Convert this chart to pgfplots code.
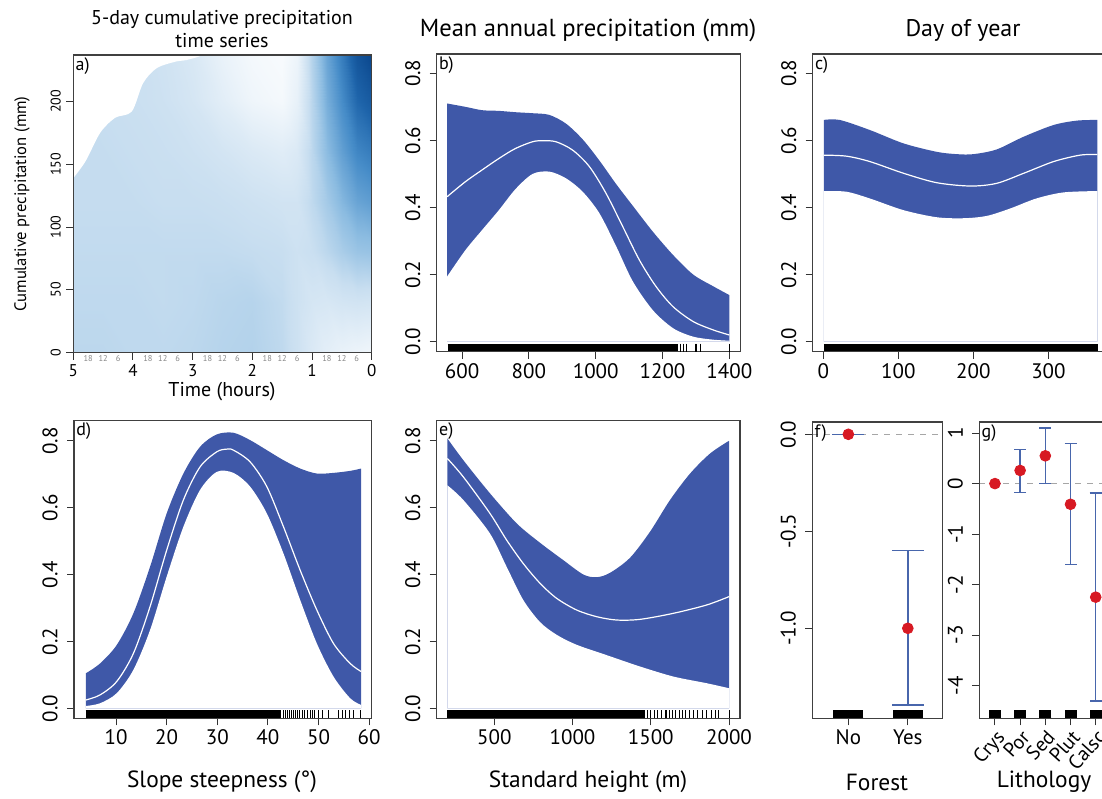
\documentclass[border=0pt]{standalone}
\usepackage{pgfplots}
\pgfplotsset{compat=1.18}
\usepackage{fontspec}
\setmainfont{PT Sans}
\definecolor{band}{RGB}{63,88,168}
\definecolor{ebar}{RGB}{72,102,172}
\definecolor{dot}{RGB}{215,25,35}
\definecolor{minorlab}{RGB}{135,135,135}

\pgfplotsset{
  panel/.style={
    scale only axis, anchor=north west, axis on top,
    axis line style={black!75, line width=0.55pt},
    tick align=outside, major tick length=3.5pt,
    tick style={black!80, line width=0.5pt},
    xtick pos=bottom, ytick pos=left,
    tick label style={font=\fontsize{10.5}{11}\selectfont},
    yticklabel style={rotate=90, anchor=south, inner sep=4.5pt},
    xticklabel style={inner sep=2pt},
  },
  rug/.style={black, line width=4pt},
  rugtick/.style={only marks, mark=|, mark size=2pt, mark options={line width=0.35pt, black}},
  bandtop/.style={fill=band, draw=none, smooth},
  bandbot/.style={fill=white, draw=none, smooth},
  fitline/.style={white, line width=0.6pt, smooth},
}
\tikzset{lab/.style={font=\fontsize{9}{10}\selectfont, anchor=north west, inner sep=1pt}}

\begin{document}
\begin{tikzpicture}

% ---------- a) heat map
\begin{axis}[panel, at={(36.65pt,-27.5pt)}, width=149.2pt, height=148.85pt,
  x dir=reverse, xmin=0, xmax=5, ymin=0, ymax=237,
  xtick={0,1,2,3,4,5}, xticklabels={0,1,2,3,4,5},
  ytick={0,50,100,150,200}, yticklabels={0,50,100,150,200},
  yticklabel style={font=\fontsize{7}{7}\selectfont, inner sep=2.5pt},
  xticklabel style={font=\fontsize{8.5}{9}\selectfont},
  extra x ticks={4.75,4.5,4.25,3.75,3.5,3.25,2.75,2.5,2.25,1.75,1.5,1.25,0.75,0.5,0.25},
  extra x tick labels={18,12,6,18,12,6,18,12,6,18,12,6,18,12,6},
  extra x tick style={major tick length=0pt,
    xticklabel style={font=\fontsize{4.2}{4.5}\selectfont, text=minorlab, yshift=1pt}},
  colormap={blues}{rgb255(0cm)=(255,255,255); rgb255(3cm)=(200,222,240);
    rgb255(5cm)=(140,188,225); rgb255(7cm)=(70,140,200);
    rgb255(8.5cm)=(30,100,170); rgb255(10cm)=(10,70,140)},
  point meta min=0, point meta max=1]
\addplot[surf, shader=interp, point meta=explicit] table[x=x, y=y, meta=c] {
x y c
5 0 0.34
4.5 0 0.34
4 0 0.33
3.5 0 0.33
3 0 0.34
2.5 0 0.36
2 0 0.37
1.5 0 0.33
1.25 0 0.27
1 0 0.20
0.75 0 0.15
0.5 0 0.12
0.25 0 0.10
0 0 0.08

5 40 0.33
4.5 40 0.33
4 40 0.33
3.5 40 0.32
3 40 0.33
2.5 40 0.35
2 40 0.36
1.5 40 0.32
1.25 40 0.27
1 40 0.23
0.75 40 0.22
0.5 40 0.24
0.25 40 0.25
0 40 0.24

5 80 0.32
4.5 80 0.32
4 80 0.32
3.5 80 0.32
3 80 0.32
2.5 80 0.32
2 80 0.31
1.5 80 0.30
1.25 80 0.27
1 80 0.29
0.75 80 0.34
0.5 80 0.40
0.25 80 0.45
0 80 0.46

5 120 0.31
4.5 120 0.31
4 120 0.31
3.5 120 0.30
3 120 0.30
2.5 120 0.29
2 120 0.27
1.5 120 0.25
1.25 120 0.25
1 120 0.33
0.75 120 0.42
0.5 120 0.52
0.25 120 0.60
0 120 0.63

5 160 0.31
4.5 160 0.31
4 160 0.30
3.5 160 0.29
3 160 0.27
2.5 160 0.24
2 160 0.20
1.5 160 0.17
1.25 160 0.20
1 160 0.34
0.75 160 0.50
0.5 160 0.62
0.25 160 0.72
0 160 0.76

5 200 0.31
4.5 200 0.30
4 200 0.29
3.5 200 0.27
3 200 0.23
2.5 200 0.16
2 200 0.09
1.5 200 0.06
1.25 200 0.13
1 200 0.35
0.75 200 0.56
0.5 200 0.70
0.25 200 0.84
0 200 0.90

5 237 0.31
4.5 237 0.30
4 237 0.29
3.5 237 0.26
3 237 0.21
2.5 237 0.12
2 237 0.06
1.5 237 0.04
1.25 237 0.10
1 237 0.37
0.75 237 0.60
0.5 237 0.76
0.25 237 0.93
0 237 1.00
};
% no-data region
\addplot[fill=white, draw=none, smooth] coordinates {(5.05,136) (4.8,152) (4.55,175) (4.3,187) (4.02,192)
  (3.83,214.6) (3.6,226.6) (3.27,231.9) (3.1,233) (2.95,238) (5.05,238)};
\node[lab] at (rel axis cs:0,1) {a)};
\end{axis}

% ---------- b) mean annual precipitation
\begin{axis}[panel, at={(218.35pt,-27pt)}, width=152pt, height=148.85pt,
  xmin=524, xmax=1434, ymin=-0.0298, ymax=0.8575,
  xtick={600,800,1000,1200,1400}, xticklabels={600,800,1000,1200,1400},
  ytick={0,0.2,0.4,0.6,0.8}, yticklabels={0.0,0.2,0.4,0.6,0.8}]
\addplot[bandtop] coordinates {(555,0.71) (610,0.70) (660,0.69) (710,0.688)
  (760,0.684) (811,0.681) (861,0.676) (911,0.65) (961,0.603) (1011,0.54) (1061,0.47) (1111,0.405)
  (1171,0.328) (1232,0.258) (1292,0.20) (1352,0.165) (1400,0.139)} \closedcycle;
\addplot[bandbot] coordinates {(555,0.194) (610,0.273) (660,0.333) (710,0.392)
  (760,0.455) (811,0.500) (861,0.507) (911,0.487) (961,0.447) (1011,0.383) (1061,0.285)
  (1111,0.180) (1171,0.094) (1232,0.040) (1292,0.015) (1352,0.006) (1400,0.003)} \closedcycle;
\addplot[fitline] coordinates {(555,0.432) (610,0.477) (660,0.512) (710,0.546) (760,0.576) (811,0.596)
  (841,0.599) (881,0.596) (931,0.571) (981,0.522) (1031,0.442) (1081,0.343) (1131,0.243)
  (1181,0.164) (1232,0.104) (1292,0.060) (1352,0.035) (1400,0.020)};
\addplot[rug] coordinates {(557,-0.018) (1245,-0.018)};
\addplot[rugtick] coordinates {(1252,-0.018) (1262,-0.018) (1272,-0.018) (1297,-0.018)
  (1302,-0.018) (1312,-0.018) (1400,-0.018)};
\node[lab] at (rel axis cs:0,1) {b)};
\end{axis}

% ---------- c) day of year
\begin{axis}[panel, at={(406.35pt,-27pt)}, width=147.75pt, height=148.85pt,
  xmin=-14, xmax=379.6, ymin=-0.0298, ymax=0.8575,
  xtick={0,100,200,300}, xticklabels={0,100,200,300},
  ytick={0,0.2,0.4,0.6,0.8}, yticklabels={0.0,0.2,0.4,0.6,0.8}]
\addplot[bandtop] coordinates {(1,0.661) (22,0.661) (62,0.631) (107,0.591)
  (151,0.566) (178,0.559) (200,0.559) (231,0.573) (267,0.611) (307,0.646) (338,0.659) (365,0.661)} \closedcycle;
\addplot[bandbot] coordinates {(1,0.449) (31,0.447) (62,0.427) (107,0.392) (151,0.371) (187,0.368)
  (218,0.375) (249,0.397) (284,0.427) (320,0.445) (365,0.449)} \closedcycle;
\addplot[fitline] coordinates {(1,0.556) (31,0.553) (62,0.537) (107,0.502) (151,0.474) (196,0.464)
  (231,0.472) (267,0.502) (307,0.537) (342,0.556) (365,0.558)};
\addplot[rug] coordinates {(1,-0.018) (366,-0.018)};
\node[lab] at (rel axis cs:0,1) {c)};
\end{axis}

% ---------- d) slope steepness
\begin{axis}[panel, at={(37pt,-210.35pt)}, width=148.85pt, height=148.8pt,
  xmin=1.7, xmax=60.5, ymin=-0.0299, ymax=0.86,
  xtick={10,20,30,40,50,60}, xticklabels={10,20,30,40,50,60},
  ytick={0,0.2,0.4,0.6,0.8}, yticklabels={0.0,0.2,0.4,0.6,0.8}]
\addplot[bandtop] coordinates {(4.07,0.105) (6.84,0.134) (10.13,0.189)
  (13.43,0.284) (16.72,0.423) (20.01,0.583) (23.31,0.702) (26.60,0.782) (29.90,0.819) (33.19,0.824)
  (36.48,0.802) (39.78,0.772) (43.07,0.742) (46.37,0.717) (49.66,0.702) (52.95,0.704)
  (56.25,0.710) (58.42,0.717)} \closedcycle;
\addplot[bandbot] coordinates {(4.07,0.007) (6.84,0.015) (10.13,0.045) (13.43,0.115) (16.72,0.234)
  (20.01,0.394) (23.31,0.543) (26.60,0.653) (29.90,0.707) (33.19,0.704) (36.48,0.663) (39.78,0.583)
  (43.07,0.463) (46.37,0.324) (49.66,0.194) (52.95,0.095) (56.25,0.030) (58.42,0.010)} \closedcycle;
\addplot[fitline] coordinates {(4.07,0.025) (6.84,0.040) (10.13,0.080) (13.43,0.164) (16.72,0.304)
  (20.01,0.473) (23.31,0.623) (26.60,0.722) (29.90,0.767) (31.87,0.775) (33.19,0.772) (36.48,0.737)
  (39.78,0.663) (43.07,0.543) (46.37,0.413) (49.66,0.294) (52.95,0.194) (56.25,0.134) (58.42,0.110)};
\addplot[rug] coordinates {(4,-0.018) (42.5,-0.018)};
\addplot[rugtick] coordinates {(43,-0.018) (43.4,-0.018) (43.8,-0.018) (44.2,-0.018) (44.6,-0.018)
  (45,-0.018) (45.4,-0.018) (45.8,-0.018) (46.3,-0.018) (46.8,-0.018) (47.2,-0.018) (47.7,-0.018)
  (48.3,-0.018) (48.8,-0.018) (49.2,-0.018) (50,-0.018) (50.8,-0.018) (52,-0.018) (54,-0.018)
  (54.7,-0.018) (55.3,-0.018) (56,-0.018) (56.9,-0.018) (58.3,-0.018)};
\node[lab] at (rel axis cs:0,1) {d)};
\end{axis}

% ---------- e) standard height
\begin{axis}[panel, at={(218.35pt,-210.35pt)}, width=151.65pt, height=148.8pt,
  xmin=132, xmax=2070, ymin=-0.0299, ymax=0.86,
  xtick={500,1000,1500,2000}, xticklabels={500,1000,1500,2000},
  ytick={0,0.2,0.4,0.6,0.8}, yticklabels={0.0,0.2,0.4,0.6,0.8}]
\addplot[bandtop] coordinates {(200,0.807) (302,0.742) (472,0.643) (643,0.553)
  (792,0.495) (941,0.443) (1069,0.400) (1154,0.392) (1239,0.405) (1367,0.450) (1495,0.528)
  (1623,0.623) (1751,0.702) (1879,0.762) (2000,0.80)} \closedcycle;
\addplot[bandbot] coordinates {(200,0.667) (302,0.623) (472,0.523) (579,0.423) (685,0.324)
  (792,0.258) (898,0.220) (1026,0.190) (1218,0.159) (1431,0.125) (1644,0.095) (1857,0.075)
  (2000,0.060)} \closedcycle;
\addplot[fitline] coordinates {(200,0.747) (302,0.692) (472,0.583) (579,0.503) (685,0.433) (792,0.374)
  (898,0.329) (1026,0.294) (1154,0.274) (1282,0.264) (1431,0.266) (1644,0.284) (1857,0.309) (2000,0.334)};
\addplot[rug] coordinates {(200,-0.018) (1460,-0.018)};
\addplot[rugtick] coordinates {(1480,-0.018) (1500,-0.018) (1520,-0.018) (1545,-0.018) (1565,-0.018)
  (1590,-0.018) (1600,-0.018) (1620,-0.018) (1640,-0.018) (1660,-0.018) (1680,-0.018) (1700,-0.018)
  (1720,-0.018) (1745,-0.018) (1770,-0.018) (1800,-0.018) (1830,-0.018) (1857,-0.018) (1889,-0.018)
  (1910,-0.018) (1931,-0.018) (2000,-0.018)};
\node[lab] at (rel axis cs:0,1) {e)};
\end{axis}

% ---------- f) forest
\begin{axis}[panel, at={(406.15pt,-211pt)}, width=65pt, height=148.15pt,
  xmin=0.394, xmax=2.58, ymin=-1.464, ymax=0.0634,
  xtick={1,2}, xticklabels={No,Yes},
  ytick={-1,-0.5,0}, yticklabels={-1.0,-0.5,0.0}]
\addplot[gray!70, dashed, line width=0.5pt] coordinates {(0.394,0) (2.58,0)};
\addplot[only marks, mark=-, mark size=7.5pt, mark options={line width=4pt, black}]
  coordinates {(1,-1.443) (2,-1.443)};
\addplot[only marks, mark=*, mark size=2.7pt, mark options={fill=dot, draw=dot},
  error bars/.cd, y dir=both, y explicit,
  error bar style={ebar, line width=0.75pt},
  error mark options={ebar, rotate=90, mark size=8pt, line width=0.75pt}]
  coordinates {(1,0) += (0,0) -= (0,0) (2,-1.0) += (0,0.40) -= (0,0.395)};
\node[lab] at (rel axis cs:0,1) {f)};
\end{axis}

% ---------- g) lithology
\begin{axis}[panel, at={(489.65pt,-211pt)}, width=65pt, height=148.15pt,
  xmin=0.38, xmax=5.54, ymin=-4.65, ymax=1.22,
  xtick={1,2,3,4,5}, xticklabels={Crys,Por,Sed,Plut,Calsc},
  xticklabel style={rotate=48, anchor=north east, inner sep=1pt, font=\fontsize{10}{10}\selectfont},
  ytick={-4,-3,-2,-1,0,1}, yticklabels={-4,-3,-2,-1,0,1}]
\addplot[gray!70, dashed, line width=0.5pt] coordinates {(0.38,0) (5.54,0)};
\addplot[only marks, mark=-, mark size=3pt, mark options={line width=4pt, black}]
  coordinates {(1,-4.57) (2,-4.57) (3,-4.57) (4,-4.57) (5,-4.57)};
\addplot[only marks, mark=*, mark size=2.7pt, mark options={fill=dot, draw=dot},
  error bars/.cd, y dir=both, y explicit,
  error bar style={ebar, line width=0.75pt},
  error mark options={ebar, rotate=90, mark size=3pt, line width=0.75pt}]
  coordinates {(1,0) += (0,0) -= (0,0) (2,0.26) += (0,0.42) -= (0,0.44)
  (3,0.55) += (0,0.55) -= (0,0.55) (4,-0.41) += (0,1.20) -= (0,1.19)
  (5,-2.25) += (0,2.06) -= (0,2.06)};
\node[lab] at (rel axis cs:0,1) {g)};
\end{axis}

% ---------- titles and labels
\node[align=center, font=\fontsize{10}{11.5}\selectfont] at (111pt,-14.5pt)
  {5-day cumulative precipitation\\time series};
\node[font=\fontsize{12.3}{13}\selectfont] at (294pt,-15pt) {Mean annual precipitation (mm)};
\node[font=\fontsize{12}{13}\selectfont] at (481.5pt,-15pt) {Day of year};
\node[font=\fontsize{10}{11}\selectfont] at (111pt,-196pt) {Time (hours)};
\node[rotate=90, font=\fontsize{8.3}{9}\selectfont] at (11pt,-102pt) {Cumulative precipitation (mm)};
\node[font=\fontsize{11.7}{12}\selectfont] at (111pt,-391pt) {Slope steepness (°)};
\node[font=\fontsize{11.7}{12}\selectfont] at (294pt,-391pt) {Standard height (m)};
\node[font=\fontsize{11.7}{12}\selectfont] at (438.5pt,-391pt) {Forest};
\node[font=\fontsize{11.7}{12}\selectfont] at (522pt,-391pt) {Lithology};

\pgfresetboundingbox
\useasboundingbox (0,0) rectangle (551pt,-399pt);
\end{tikzpicture}
\end{document}
